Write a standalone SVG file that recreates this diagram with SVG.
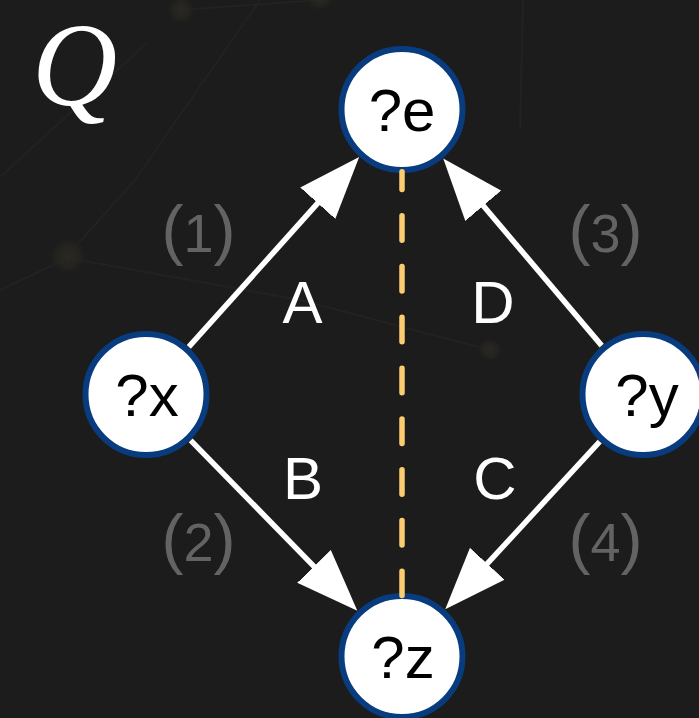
<svg xmlns="http://www.w3.org/2000/svg" width="699" height="718" viewBox="0 0 699 718">
  <style>
    .bgline { stroke: #222220; stroke-width: 2; fill: none; }
    .node circle { fill: #ffffff; stroke: #083c7e; stroke-width: 6; }
    .node text { font-family: "Liberation Sans", Arial, sans-serif; font-size: 60px; fill: #000000; text-anchor: middle; }
    .edge { stroke: #ffffff; stroke-width: 5.5; fill: none; marker-end: url(#head); }
    .dash { stroke: #fbcc70; stroke-width: 5.5; stroke-linecap: round; stroke-dasharray: 24.5 26.3; stroke-dashoffset: 6.8; fill: none; }
    .elabel { font-family: "Liberation Sans", Arial, sans-serif; font-size: 60px; fill: #ffffff; text-anchor: middle; }
    .num { font-family: "Liberation Sans", Arial, sans-serif; fill: #636363; text-anchor: middle; }
    .title { font-family: "Liberation Serif", "Times New Roman", serif; font-style: italic; font-size: 118px; fill: #ffffff; }
  </style>
  <defs>
    <marker id="head" markerUnits="userSpaceOnUse" markerWidth="64" markerHeight="48" viewBox="0 -24 64 48" refX="2" refY="0" orient="auto">
      <path d="M0,-23.5 L62,0 L0,23.5 z" fill="#ffffff"/>
    </marker>
    <radialGradient id="glow">
      <stop offset="0" stop-color="#2b2923" stop-opacity="1"/>
      <stop offset="0.6" stop-color="#272520" stop-opacity="0.7"/>
      <stop offset="1" stop-color="#1c1c1c" stop-opacity="0"/>
    </radialGradient>
  </defs>

  <rect x="0" y="0" width="699" height="718" fill="#1c1c1c"/>

  <g id="background">
    <path class="bgline" d="M0,177 L147,43"/>
    <path class="bgline" d="M68,255 L135,180 L260,0"/>
    <path class="bgline" d="M0,290 L68,258 L300,300 L490,350"/>
    <path class="bgline" d="M523,0 L520,130"/>
    <path class="bgline" d="M181,10 L320,0"/>
    <circle cx="181" cy="10" r="15" fill="url(#glow)"/>
    <circle cx="320" cy="-2" r="14" fill="url(#glow)"/>
    <circle cx="68" cy="256" r="20" fill="url(#glow)"/>
    <circle cx="490" cy="350" r="13" fill="url(#glow)"/>
  </g>

  <text class="title" x="32" y="105">Q</text>

  <g id="node-e" class="node">
    <circle cx="402" cy="109.5" r="60.5"/>
    <text x="402" y="130.5">?e</text>
  </g>
  <g id="node-x" class="node">
    <circle cx="146" cy="394.5" r="60.5"/>
    <text x="147" y="416">?x</text>
  </g>
  <g id="node-y" class="node">
    <circle cx="643" cy="394.5" r="60.5"/>
    <text x="647" y="416">?y</text>
  </g>
  <g id="node-z" class="node">
    <circle cx="402" cy="656.5" r="60.5"/>
    <text x="403" y="677.5">?z</text>
  </g>

  <g id="connectors">
    <line class="dash" x1="402" y1="171.75" x2="402" y2="595.5"/>
    <line class="edge" x1="188.8" y1="346.9" x2="319.1" y2="201.7"/>
    <line class="edge" x1="190.7" y1="440.3" x2="315.4" y2="567.8"/>
    <line class="edge" x1="599.7" y1="441.6" x2="485.9" y2="565.2"/>
    <line class="edge" x1="601.7" y1="345.6" x2="482.0" y2="204.2"/>
  </g>

  <g id="edge-labels">
    <text class="elabel" x="302.5" y="323">A</text>
    <text class="elabel" x="303" y="499">B</text>
    <text class="elabel" x="495" y="499">C</text>
    <text class="elabel" x="493" y="323">D</text>
    <text class="num" x="198.5" y="252"><tspan font-size="66">(</tspan><tspan font-size="54">1</tspan><tspan font-size="66">)</tspan></text>
    <text class="num" x="198.5" y="561"><tspan font-size="66">(</tspan><tspan font-size="54">2</tspan><tspan font-size="66">)</tspan></text>
    <text class="num" x="605.5" y="252"><tspan font-size="66">(</tspan><tspan font-size="54">3</tspan><tspan font-size="66">)</tspan></text>
    <text class="num" x="605.5" y="561"><tspan font-size="66">(</tspan><tspan font-size="54">4</tspan><tspan font-size="66">)</tspan></text>
  </g>
</svg>
